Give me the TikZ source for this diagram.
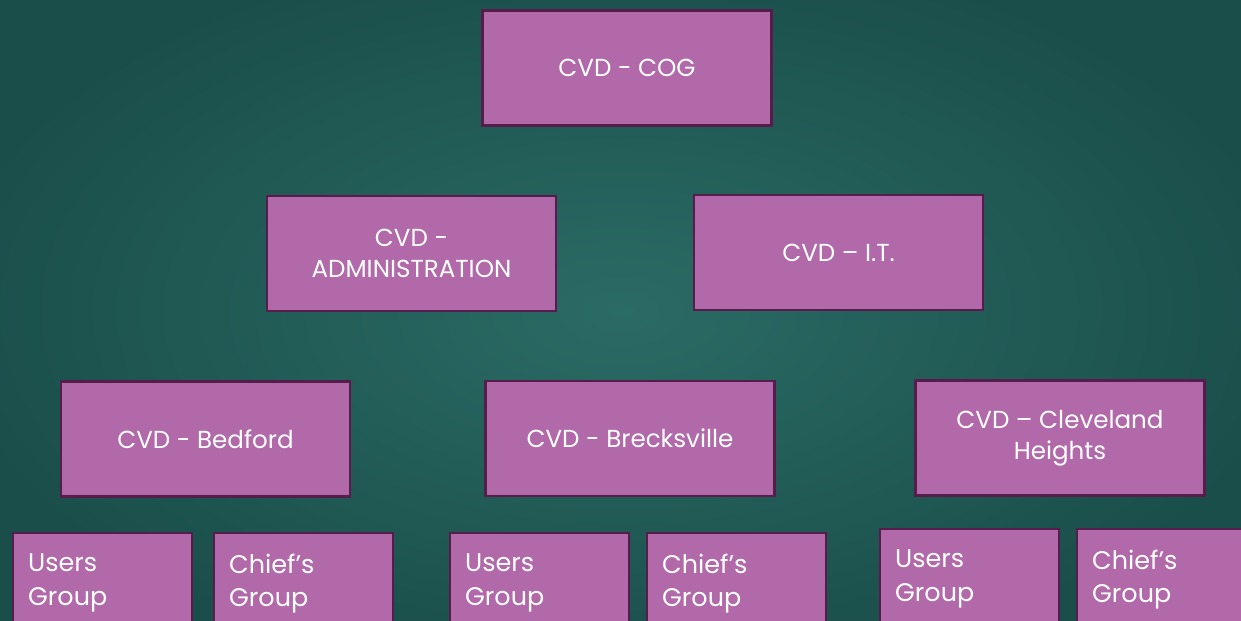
\documentclass[tikz,border=0pt]{standalone}
\usepackage{fontspec}
\setmainfont{Poppins}
\definecolor{boardin}{HTML}{2B6B65}
\definecolor{boardout}{HTML}{1A4E4A}
\definecolor{boxfill}{HTML}{B269AA}
\definecolor{boxline}{HTML}{561D4C}

\begin{document}
\begin{tikzpicture}[x=0.02cm,y=-0.02cm,
  unit/.style={draw=boxline, line width=1.3pt, fill=boxfill, text=white,
    minimum width=5.78cm, minimum height=2.3cm, inner sep=0pt, align=center,
    font=\fontsize{14}{17.5}\selectfont},
  team/.style={draw=boxline, line width=1.3pt, fill=boxfill, text=white,
    anchor=north west, text width=2.98cm, inner xsep=0.3cm, inner ysep=0.42cm,
    align=left, font=\fontsize{14.5}{19}\selectfont}]
\useasboundingbox (0,0) rectangle (1241,621);
\clip (0,0) rectangle (1241,621);
\shade[inner color=boardin, outer color=boardout] (-60,-60) rectangle (1301,681);
% top
\node[unit] (cog) at (627,68) {CVD - COG};
% second row
\node[unit] (admin) at (411.5,253.5) {CVD -\\ADMINISTRATION};
\node[unit] (it) at (838.5,252.5) {CVD – I.T.};
% departments
\node[unit] (bedford) at (205.5,439) {CVD - Bedford};
\node[unit] (brecks) at (630,438.5) {CVD - Brecksville};
\node[unit] (cleveland) at (1060,438) {CVD – Cleveland\\Heights};
% groups
\node[team] (bedusers) at (12,532) {Users\\Group};
\node[team] (bedchief) at (213,532) {Chief’s\\Group};
\node[team] (breusers) at (449,532) {Users\\Group};
\node[team] (brechief) at (646,532) {Chief’s\\Group};
\node[team] (cleusers) at (879,528) {Users\\Group};
\node[team] (clechief) at (1076,528) {Chief’s\\Group};
\end{tikzpicture}
\end{document}
